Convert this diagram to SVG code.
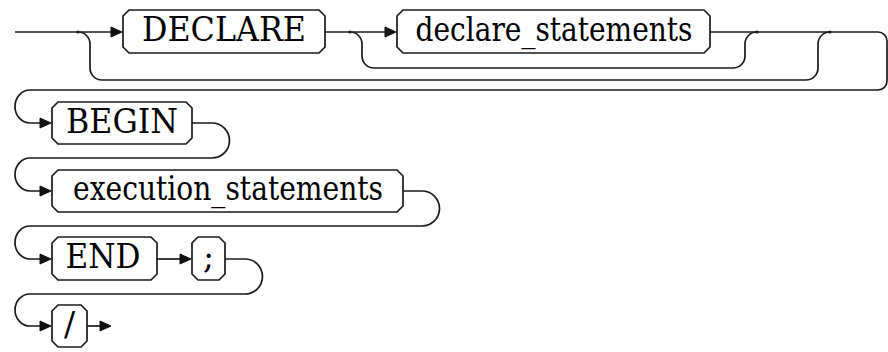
<svg xmlns="http://www.w3.org/2000/svg" xmlns:xlink="http://www.w3.org/1999/xlink" width="888" height="352" viewBox="0 0 888 352">
<style>
.box{fill:#fff;stroke:#1a1a1a;stroke-width:1.7}
.ln{fill:none;stroke:#1a1a1a;stroke-width:1.7}
.dot{fill:#1a1a1a}
.ah{fill:#111;stroke:#111;stroke-width:1;stroke-linejoin:round}
.lbl{font-family:"DejaVu Serif",serif;font-size:33px;fill:#000;text-anchor:middle}
</style>
<defs>
<path id="ah" class="ah" d="M-11,-5 L0,0 L-11,5 Z"/>
</defs>
<rect width="888" height="352" fill="#fff"/>
<g id="connectors">
<path class="ln" d="M15,32 H116"/>
<path class="ln" d="M325,32 H390"/>
<path class="ln" d="M710,32 H878 A9,9 0 0 1 887,41 V81 A9,9 0 0 1 878,90 H30 A15,16.5 0 0 0 30,123 H45"/>
<path class="ln" d="M78,32 A12,12 0 0 1 90,44 V68 A12,12 0 0 0 102,80 H806 A12,12 0 0 0 818,68 V44 A12,12 0 0 1 830,32"/>
<path class="ln" d="M350,32 A12,12 0 0 1 362,44 V56 A12,12 0 0 0 374,68 H733 A12,12 0 0 0 745,56 V44 A12,12 0 0 1 757,32"/>
<circle class="dot" cx="78" cy="32" r="1.6"/>
<circle class="dot" cx="350" cy="32" r="1.6"/>
<circle class="dot" cx="757" cy="32" r="1.6"/>
<circle class="dot" cx="830" cy="32" r="1.6"/>
<path class="ln" d="M192,123 H212 A17.5,17.5 0 0 1 212,158 H30 A15,16.5 0 0 0 30,191 H45"/>
<path class="ln" d="M403,191 H422 A17.5,17.5 0 0 1 422,226 H30 A15,16.5 0 0 0 30,259 H45"/>
<path class="ln" d="M157,259 H185"/>
<path class="ln" d="M225,259 H245 A17.5,17.5 0 0 1 245,294 H30 A15,16 0 0 0 30,326 H45"/>
<path class="ln" d="M87,326 H104"/>
<use xlink:href="#ah" href="#ah" x="122" y="32"/>
<use xlink:href="#ah" href="#ah" x="396" y="32"/>
<use xlink:href="#ah" href="#ah" x="51" y="123"/>
<use xlink:href="#ah" href="#ah" x="51" y="191"/>
<use xlink:href="#ah" href="#ah" x="51" y="259"/>
<use xlink:href="#ah" href="#ah" x="191" y="259"/>
<use xlink:href="#ah" href="#ah" x="51" y="326"/>
<use xlink:href="#ah" href="#ah" x="111" y="326"/>
</g>
<g id="declare">
<path class="box" d="M129,10 H319 L325,16 V47 L319,53 H129 L123,47 V16 Z"/>
<text class="lbl" x="224" y="41" textLength="164" lengthAdjust="spacingAndGlyphs">DECLARE</text>
</g>
<g id="declare_statements">
<path class="box" d="M403,10 H704 L710,16 V47 L704,53 H403 L397,47 V16 Z"/>
<text class="lbl" x="554" y="41" textLength="277" lengthAdjust="spacingAndGlyphs">declare_statements</text>
</g>
<g id="begin">
<path class="box" d="M58,102 H186 L192,108 V138 L186,144 H58 L52,138 V108 Z"/>
<text class="lbl" x="122" y="133" textLength="112" lengthAdjust="spacingAndGlyphs">BEGIN</text>
</g>
<g id="execution_statements">
<path class="box" d="M58,170 H397 L403,176 V206 L397,212 H58 L52,206 V176 Z"/>
<text class="lbl" x="228" y="200" textLength="310" lengthAdjust="spacingAndGlyphs">execution_statements</text>
</g>
<g id="end">
<path class="box" d="M58,237 H151 L157,243 V274 L151,280 H58 L52,274 V243 Z"/>
<text class="lbl" x="103" y="268" textLength="75" lengthAdjust="spacingAndGlyphs">END</text>
</g>
<g id="semicolon">
<path class="box" d="M198,237 H219 L225,243 V274 L219,280 H198 L192,274 V243 Z"/>
<text class="lbl" x="208.5" y="268">;</text>
</g>
<g id="slash">
<path class="box" d="M58,305 H81 L87,311 V341 L81,347 H58 L52,341 V311 Z"/>
<text class="lbl" x="69.5" y="336">/</text>
</g>
</svg>
